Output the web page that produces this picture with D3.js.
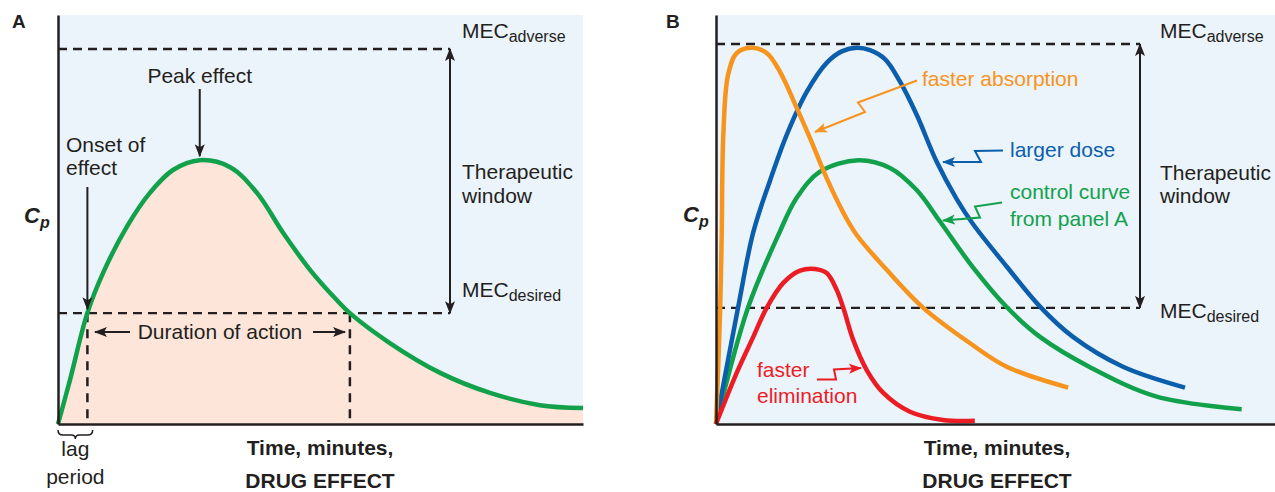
<!DOCTYPE html>
<html><head><meta charset="utf-8">
<script src="https://cdn.jsdelivr.net/npm/d3@7"></script>
<style>
body{margin:0;background:#fff}
text{font-family:"Liberation Sans",Arial,Helvetica,sans-serif;fill:#231f20}
</style>
</head><body><svg id="chart" width="1275" height="492"></svg>
<script>
// ---------- DATA (time in arbitrary minutes 0..100, concentration Cp 0..100) ----------
const controlA_t = [0, 2.29, 5.58, 8.57, 13.1, 17.5, 21.9, 27.0, 32.8, 37.9, 42.9, 48.0, 53.1, 55.6, 63.2, 72.8, 82.3, 91.8, 100];
const controlA_c = [0, 10.8, 27.1, 36.9, 48.2, 56.5, 62.1, 64.5, 62.8, 56.5, 46.7, 37.7, 30.3, 27.1, 19.8, 12.5, 7.6, 4.6, 3.9];

const controlB_t = [0, 5.72, 11.15, 14.44, 18.60, 25.46, 31.13, 35.90, 40.07, 45.97, 52.00, 57.96, 66.91, 78.84, 94.04];
const controlB_c = [0, 28.4, 46.2, 55.3, 61.7, 64.5, 62.6, 57.2, 49.5, 38.3, 28.6, 21.3, 13.9, 6.7, 3.6];

const largerDose_t = [0, 3.94, 6.67, 9.66, 12.65, 16.23, 19.80, 22.49, 25.17, 27.55, 30.23, 32.92, 35.90, 39.48, 43.06, 45.97, 52.00, 57.96, 63.86, 72.81, 83.90];
const largerDose_c = [0, 28.4, 46.9, 59.5, 70.7, 81.2, 88.3, 91.1, 92.0, 91.4, 89.2, 83.7, 75.6, 64.1, 55.0, 48.9, 38.5, 28.7, 21.3, 14.0, 8.9];

const fasterAbs_t = [0, 0.72, 1.02, 1.31, 2.15, 3.70, 6.39, 9.07, 11.45, 14.44, 16.82, 19.80, 22.72, 25.17, 30.54, 37.08, 45.4, 52.0, 63.0];
const fasterAbs_c = [0, 27.1, 46.2, 70.7, 85.3, 90.7, 92.0, 90.7, 86.1, 77.3, 69.9, 60.1, 51.8, 46.2, 37.7, 28.4, 19.8, 14.0, 8.9];

const fasterElim_t = [0, 3.70, 6.67, 9.07, 12.04, 15.03, 17.71, 19.80, 21.59, 22.77, 24.56, 26.96, 29.93, 34.70, 40.60, 46.30];
const fasterElim_c = [0, 12.5, 21.3, 28.4, 34.5, 37.5, 37.9, 36.9, 32.8, 28.4, 20.5, 13.2, 7.6, 3.0, 1.0, 0.8];

const mecA = [91.7, 27.1];      // [adverse, desired]
const mecB = [92.9, 28.4];
const durationA = [5.6, 55.6];  // onset / end of effect
const lagPeriod = [0, 6.6];
const peakA = 27.0;

// ---------- SETUP ----------
const ink = "#231f20";
const cGreen = "#12a14b", cBlue = "#0b5eab", cOrange = "#f7941d", cRed = "#ec1c24";
const bg = "#ebf3fb", pink = "#fde5da";
const svg = d3.select("#chart");
const defs = svg.append("defs");
function marker(id, color) {
  defs.append("marker").attr("id", id).attr("viewBox", "0 -6 13 12")
    .attr("refX", 12).attr("refY", 0).attr("markerWidth", 13).attr("markerHeight", 12)
    .attr("markerUnits", "userSpaceOnUse").attr("orient", "auto-start-reverse")
    .append("path").attr("d", "M0,-5L13,0L0,5L3,0Z").attr("fill", color);
}
marker("mk", ink); marker("mo", cOrange); marker("mb", cBlue); marker("mg", cGreen); marker("mr", cRed);

const y = d3.scaleLinear().domain([0, 100]).range([424, 15]);
const xA = d3.scaleLinear().domain([0, 100]).range([58, 583]);
const xB = d3.scaleLinear().domain([0, 100]).range([716, 1275]);
const smooth = d3.curveCatmullRom.alpha(0.5);

const zip = (t, c) => t.map((v, i) => [v, c[i]]);

function txt(g, x, yy, s, o = {}) {
  const t = g.append("text").attr("x", x).attr("y", yy).attr("font-size", o.size || 21)
    .attr("text-anchor", o.anchor || "start").text(s);
  if (o.bold) t.attr("font-weight", "bold");
  if (o.color) t.style("fill", o.color);
  return t;
}
function mec(g, x, yy, sub) {
  const t = g.append("text").attr("x", x).attr("y", yy).attr("font-size", 21).text("MEC");
  t.append("tspan").attr("font-size", 16).attr("dy", 4).text(sub);
}
function cp(g, x, yy) {
  const t = g.append("text").attr("x", x).attr("y", yy).attr("font-size", 22)
    .attr("font-weight", "bold").attr("font-style", "italic").text("C");
  t.append("tspan").attr("font-size", 16).attr("dy", 5).text("p");
}
function arrow(g, pts, color, mk, w = 2) {
  g.append("path").attr("d", d3.line()(pts)).attr("fill", "none")
    .attr("stroke", color).attr("stroke-width", w).attr("marker-end", `url(#${mk})`);
}
function panel(x) {
  const g = svg.append("g");
  g.append("rect").attr("x", x.range()[0]).attr("y", y.range()[1])
    .attr("width", x.range()[1] - x.range()[0]).attr("height", y.range()[0] - y.range()[1]).attr("fill", bg);
  return g;
}
function axes(g, x) {
  g.append("g").attr("transform", `translate(${x(0)},0)`).call(d3.axisLeft(y).ticks(0).tickSizeOuter(0))
    .call(a => a.select(".domain").attr("stroke", ink).attr("stroke-width", 2.5));
  g.append("g").attr("transform", `translate(0,${y(0)})`).call(d3.axisBottom(x).ticks(0).tickSizeOuter(0))
    .call(a => a.select(".domain").attr("stroke", ink).attr("stroke-width", 2.5));
}

// ---------- PANEL A ----------
const gA = panel(xA);
const dataA = zip(controlA_t, controlA_c);
gA.append("path").datum(dataA).attr("fill", pink)
  .attr("d", d3.area().x(d => xA(d[0])).y0(y(0)).y1(d => y(d[1])).curve(smooth));

const arrowXA = 450;
mecA.forEach(m => gA.append("line").attr("x1", xA(0)).attr("x2", arrowXA).attr("y1", y(m)).attr("y2", y(m))
  .attr("stroke", ink).attr("stroke-width", 2.4).attr("stroke-dasharray", "9,6"));
durationA.forEach(t => gA.append("line").attr("x1", xA(t)).attr("x2", xA(t)).attr("y1", y(mecA[1])).attr("y2", y(0))
  .attr("stroke", ink).attr("stroke-width", 2.5).attr("stroke-dasharray", "9,7"));

gA.append("path").datum(dataA).attr("fill", "none").attr("stroke", cGreen).attr("stroke-width", 4.5)
  .attr("d", d3.line().x(d => xA(d[0])).y(d => y(d[1])).curve(smooth));

axes(gA, xA);

gA.append("line").attr("x1", arrowXA).attr("x2", arrowXA).attr("y1", y(mecA[0])).attr("y2", y(mecA[1]))
  .attr("stroke", ink).attr("stroke-width", 2).attr("marker-start", "url(#mk)").attr("marker-end", "url(#mk)");

txt(gA, 12, 28, "A", { bold: true, size: 19 });
cp(gA, 24, 223);
txt(gA, xA(peakA), 83, "Peak effect", { anchor: "middle" });
arrow(gA, [[xA(peakA), 89], [xA(peakA), y(64.5) - 4]], ink, "mk");
txt(gA, 66, 152, "Onset of");
txt(gA, 66, 175, "effect");
arrow(gA, [[xA(durationA[0]), 187], [xA(durationA[0]), y(mecA[1]) - 4]], ink, "mk");
txt(gA, 220, 339, "Duration of action", { anchor: "middle" });
arrow(gA, [[130, 332], [95, 332]], ink, "mk");
arrow(gA, [[313, 332], [345, 332]], ink, "mk");
mec(gA, 462, 38, "adverse");
txt(gA, 462, 179, "Therapeutic");
txt(gA, 462, 203, "window");
mec(gA, 462, 297, "desired");
const b0 = xA(lagPeriod[0]), b1 = xA(lagPeriod[1]), bm = (b0 + b1) / 2;
gA.append("path").attr("fill", "none").attr("stroke", ink).attr("stroke-width", 1.5)
  .attr("d", `M${b0},430 Q${b0},435 ${b0 + 5},435 L${bm - 4},435 Q${bm},435 ${bm},439 Q${bm},435 ${bm + 4},435 L${b1 - 5},435 Q${b1},435 ${b1},430`);
txt(gA, bm, 456, "lag", { anchor: "middle" });
txt(gA, bm, 484, "period", { anchor: "middle" });
txt(gA, 320, 455, "Time, minutes,", { anchor: "middle", bold: true });
txt(gA, 320, 488, "DRUG EFFECT", { anchor: "middle", bold: true });

// ---------- PANEL B ----------
const gB = panel(xB);
const arrowXB = 1140;
mecB.forEach(m => gB.append("line").attr("x1", xB(0)).attr("x2", arrowXB).attr("y1", y(m)).attr("y2", y(m))
  .attr("stroke", ink).attr("stroke-width", 2.4).attr("stroke-dasharray", "9,6"));

const lineB = d3.line().x(d => xB(d[0])).y(d => y(d[1])).curve(smooth);
[[controlB_t, controlB_c, cGreen], [largerDose_t, largerDose_c, cBlue],
 [fasterAbs_t, fasterAbs_c, cOrange], [fasterElim_t, fasterElim_c, cRed]].forEach(([t, c, col]) => {
  gB.append("path").datum(zip(t, c)).attr("fill", "none").attr("stroke", col).attr("stroke-width", 4.5).attr("d", lineB);
});

axes(gB, xB);

gB.append("line").attr("x1", arrowXB).attr("x2", arrowXB).attr("y1", y(mecB[0])).attr("y2", y(mecB[1]))
  .attr("stroke", ink).attr("stroke-width", 2).attr("marker-start", "url(#mk)").attr("marker-end", "url(#mk)");

txt(gB, 666, 28, "B", { bold: true, size: 19 });
cp(gB, 683, 222);
mec(gB, 1160, 38, "adverse");
txt(gB, 1160, 180, "Therapeutic");
txt(gB, 1160, 203, "window");
mec(gB, 1160, 318, "desired");
txt(gB, 997, 455, "Time, minutes,", { anchor: "middle", bold: true });
txt(gB, 997, 488, "DRUG EFFECT", { anchor: "middle", bold: true });

txt(gB, 922, 86, "faster absorption", { color: cOrange });
arrow(gB, [[917, 80.5], [858, 102.5], [865, 112], [815, 132]], cOrange, "mo");
txt(gB, 1010, 157, "larger dose", { color: cBlue });
arrow(gB, [[1003, 150.5], [975, 151], [981, 162], [943, 162]], cBlue, "mb");
txt(gB, 1010, 199, "control curve", { color: cGreen });
txt(gB, 1010, 226, "from panel A", { color: cGreen });
arrow(gB, [[1002, 202.5], [975, 206.5], [980, 217.5], [943, 220.5]], cGreen, "mg");
txt(gB, 757, 377, "faster", { color: cRed });
txt(gB, 757, 403, "elimination", { color: cRed });
arrow(gB, [[817, 379.5], [836, 379.5], [834, 369.5], [861, 368]], cRed, "mr");
</script>
</body></html>
